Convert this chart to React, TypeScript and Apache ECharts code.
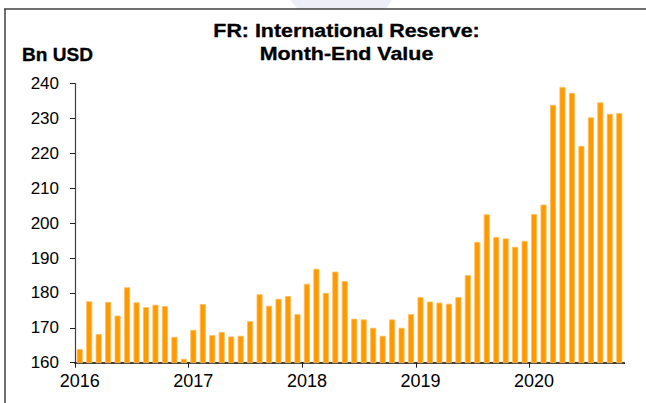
import React, { useEffect, useRef } from "react";
import * as echarts from "echarts";

const years = ["2016", "2017", "2018", "2019", "2020"];
const monthsPerYear = ["01", "02", "03", "04", "05", "06", "07", "08", "09", "10", "11", "12"];

const reserves2016 = [163.9, 177.6, 168.2, 177.4, 173.5, 181.6, 177.3, 175.9, 176.6, 176.2, 167.4, 161.1];
const reserves2017 = [169.4, 176.8, 167.9, 168.8, 167.5, 167.7, 171.9, 179.6, 176.3, 178.3, 179.1, 173.9];
const reserves2018 = [182.6, 186.9, 180.0, 186.1, 183.4, 172.6, 172.4, 170.0, 167.7, 172.4, 170.0, 173.9];
const reserves2019 = [178.8, 177.5, 177.2, 176.9, 178.8, 185.1, 194.6, 202.5, 196.0, 195.6, 193.2, 194.9];
const reserves2020 = [202.6, 205.3, 233.9, 239.0, 237.3, 222.1, 230.3, 234.6, 231.3, 231.5];

const yTicks = { min: 160, max: 240, interval: 10 };

const titleLine1 = "FR: International Reserve:";
const titleLine2 = "Month-End Value";
const unitLabel = "Bn USD";

export default function App() {
  const ref = useRef<HTMLDivElement>(null);

  useEffect(() => {
    document.body.style.margin = "0";
    if (!ref.current) return;
    const chart = echarts.init(ref.current, null, { renderer: "svg" });

    const values = [...reserves2016, ...reserves2017, ...reserves2018, ...reserves2019, ...reserves2020];
    const categories: string[] = [];
    years.forEach((y) => monthsPerYear.forEach((m) => categories.push(`${y}-${m}`)));
    const cats = categories.slice(0, values.length);

    const font = "'Liberation Sans', Arial, sans-serif";

    chart.setOption({
      animation: false,
      backgroundColor: "#ffffff",
      grid: { left: 75, right: 22, top: 83.5, bottom: 40.3, containLabel: false },
      xAxis: {
        type: "category",
        data: cats,
        boundaryGap: true,
        axisLine: { show: true, lineStyle: { color: "#404040", width: 2 } },
        axisTick: {
          show: true,
          interval: (i: number) => i % 12 === 0,
          length: 5,
          lineStyle: { color: "#202020", width: 1 },
        },
        axisLabel: {
          interval: (i: number) => i % 12 === 0,
          formatter: (v: string) => v.slice(0, 4),
          color: "#000",
          fontSize: 18,
          fontFamily: font,
          margin: 9,
        },
        splitLine: { show: false },
      },
      yAxis: {
        type: "value",
        min: yTicks.min,
        max: yTicks.max,
        interval: yTicks.interval,
        axisLine: { show: true, lineStyle: { color: "#404040", width: 1.2 } },
        axisTick: { show: true, length: 5, lineStyle: { color: "#202020", width: 1 } },
        axisLabel: { color: "#000", fontSize: 17, fontFamily: font, margin: 16 },
        splitLine: { show: false },
      },
      series: [
        {
          type: "bar",
          data: values,
          barWidth: 6,
          itemStyle: { color: "#FF9900", borderColor: "#FFBE5C", borderWidth: 0.8 },
        },
      ],
      graphic: [
        {
          type: "polygon",
          z: -10,
          shape: { points: [[290, 0], [392, 0], [386, 9], [298, 9]] },
          style: { fill: "#EEEEF8" },
          silent: true,
        },
        {
          type: "rect",
          z: 100,
          shape: { x: 620, y: 364, width: 8, height: 8 },
          style: { fill: "#ffffff" },
          silent: true,
        },
        {
          type: "line",
          shape: { x1: 4, y1: 9, x2: 646, y2: 9 },
          style: { stroke: "#404040", lineWidth: 1.5 },
          silent: true,
        },
        {
          type: "line",
          shape: { x1: 5, y1: 9, x2: 5, y2: 403 },
          style: { stroke: "#404040", lineWidth: 1.5 },
          silent: true,
        },
        {
          type: "text",
          x: 346.5,
          y: 31,
          scaleX: 1.19,
          style: {
            text: titleLine1,
            fill: "#000",
            stroke: "#000",
            lineWidth: 0.3,
            font: `bold 18px ${font}`,
            textAlign: "center",
            textVerticalAlign: "middle",
          },
        },
        {
          type: "text",
          x: 346.5,
          y: 53.5,
          scaleX: 1.19,
          style: {
            text: titleLine2,
            fill: "#000",
            stroke: "#000",
            lineWidth: 0.3,
            font: `bold 18px ${font}`,
            textAlign: "center",
            textVerticalAlign: "middle",
          },
        },
        {
          type: "text",
          x: 22,
          y: 54.5,
          scaleX: 1.06,
          style: {
            text: unitLabel,
            fill: "#000",
            stroke: "#000",
            lineWidth: 0.3,
            font: `bold 18px ${font}`,
            textAlign: "left",
            textVerticalAlign: "middle",
          },
        },
      ],
    });

    return () => chart.dispose();
  }, []);

  return <div ref={ref} style={{ width: 646, height: 403 }} />;
}
